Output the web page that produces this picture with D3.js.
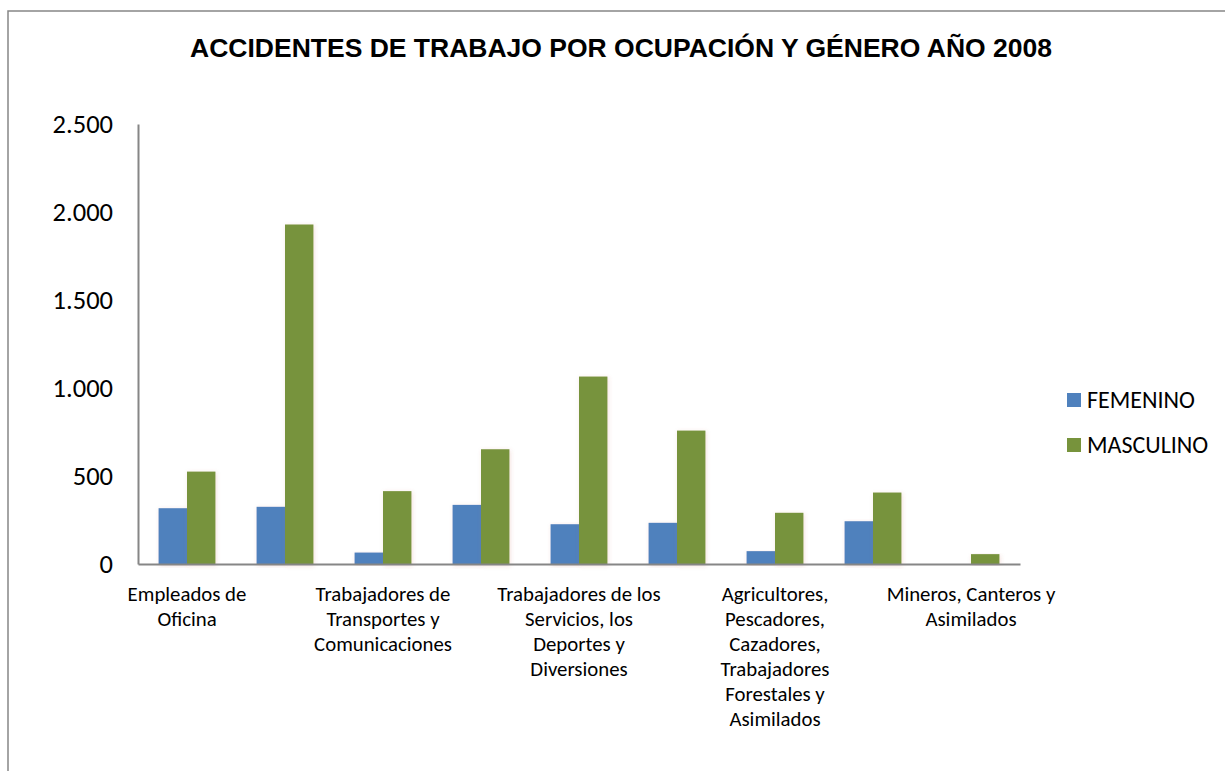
<!DOCTYPE html>
<html>
<head>
<meta charset="utf-8">
<script src="https://cdn.jsdelivr.net/npm/d3@7"></script>
<style>
body { margin: 0; background: #fff; }
svg { display: block; }
</style>
</head>
<body>
<div id="chart"></div>
<script>

let width = 1225;
let height = 771;

// datos
let categories = [
	"Empleados de Oficina",
	"Obreros y Operarios",
	"Trabajadores de Transportes y Comunicaciones",
	"Comerciantes y Vendedores",
	"Trabajadores de los Servicios, los Deportes y Diversiones",
	"Profesionales y Técnicos",
	"Agricultores, Pescadores, Cazadores, Trabajadores Forestales y Asimilados",
	"Trabajadores de la Construcción",
	"Mineros, Canteros y Asimilados"
];
let femenino = [317, 325, 65, 336, 226, 234, 73, 243, 0];
let masculino = [525, 1929, 414, 652, 1065, 758, 291, 406, 56];
let seriesNames = ["FEMENINO", "MASCULINO"];
let seriesColors = ["#4F81BD", "#77933C"];
let yTicks = [0, 500, 1000, 1500, 2000, 2500];

let labelFont = "Calibri, Carlito, Lato, sans-serif";

let svg = d3.select("#chart")
	.append("svg")
	.attr("width", width)
	.attr("height", height);

// marco del grafico (sale por la derecha y por abajo)
svg.append("rect")
	.attr("x", 8)
	.attr("y", 11)
	.attr("width", 1240)
	.attr("height", 800)
	.attr("fill", "#fff")
	.attr("stroke", "#868686")
	.attr("stroke-width", 1.5);

let defs = svg.append("defs");
let shadow = defs.append("filter").attr("id", "sombra")
	.attr("x", "-20%").attr("y", "-5%").attr("width", "140%").attr("height", "110%");
shadow.append("feDropShadow")
	.attr("dx", 1).attr("dy", 1).attr("stdDeviation", 2)
	.attr("flood-color", "#c0504d").attr("flood-opacity", 0.18);

svg.append("text")
	.attr("x", 621)
	.attr("y", 57)
	.attr("text-anchor", "middle")
	.style("font-family", "'Liberation Sans', Arial, sans-serif")
	.style("font-weight", "bold")
	.style("font-size", "26.5px")
	.attr("fill", "#000")
	.text("ACCIDENTES DE TRABAJO POR OCUPACIÓN Y GÉNERO AÑO 2008");

let x = d3.scaleBand()
	.domain(d3.range(categories.length))
	.range([138, 1020])
	.paddingInner(0.42)
	.paddingOuter(0.21);

let xSerie = d3.scaleBand()
	.domain([0, 1])
	.range([0, x.bandwidth()]);

let y = d3.scaleLinear()
	.domain([0, 2500])
	.range([564, 124]);

let es = d3.formatLocale({ decimal: ",", thousands: ".", grouping: [3], currency: ["$", ""] });

let yAxis = svg.append("g")
	.attr("transform", "translate(138,0)")
	.call(d3.axisLeft(y).tickValues(yTicks).tickSize(0).tickPadding(25).tickFormat(es.format(",")));

yAxis.select(".domain").attr("stroke", "#868686").attr("stroke-width", 2);
yAxis.selectAll("text")
	.style("font-family", labelFont)
	.style("font-size", "26.5px")
	.attr("fill", "#000");

let datos = categories.map((c, i) => ({ i: i, values: [femenino[i], masculino[i]] }));

let groups = svg.append("g")
	.selectAll("g")
	.data(datos)
	.enter().append("g")
	.attr("transform", d => "translate(" + x(d.i) + ",0)");

groups.selectAll("rect")
	.data(d => d.values.map((v, s) => ({ s: s, v: v })))
	.enter().append("rect")
	.filter(d => d.v > 0)
	.attr("x", d => xSerie(d.s))
	.attr("y", d => y(d.v))
	.attr("width", xSerie.bandwidth())
	.attr("height", d => y(0) - y(d.v) + 1)
	.attr("fill", d => seriesColors[d.s])
	.attr("filter", "url(#sombra)");

let xAxis = svg.append("g")
	.attr("transform", "translate(0,564)")
	.call(d3.axisBottom(x).tickSize(0).tickPadding(0).tickFormat(i => categories[i]));

xAxis.select(".domain").attr("stroke", "#868686").attr("stroke-width", 2);

// Excel solo muestra una etiqueta de cada dos
xAxis.selectAll(".tick").filter(i => i % 2 == 1).remove();

xAxis.selectAll(".tick text")
	.style("font-family", labelFont)
	.style("font-size", "20.8px")
	.attr("fill", "#000")
	.attr("y", 37)
	.attr("dy", 0)
	.call(wrap, 172);

function wrap(texts, maxWidth)
{
	texts.each(function() {
		let text = d3.select(this);
		let words = text.text().split(/\s+/);
		let line = [];
		let lineNumber = 0;
		let lineHeight = 25;
		let yPos = text.attr("y");
		text.text(null);
		let tspan = text.append("tspan").attr("x", 0).attr("y", yPos);
		for(let w = 0; w < words.length; w++)
		{
			line.push(words[w]);
			tspan.text(line.join(" "));
			if(tspan.node().getComputedTextLength() > maxWidth && line.length > 1)
			{
				line.pop();
				tspan.text(line.join(" "));
				line = [words[w]];
				lineNumber++;
				tspan = text.append("tspan")
					.attr("x", 0)
					.attr("y", +yPos + lineNumber * lineHeight)
					.text(words[w]);
			}
		}
	});
}

// leyenda
let legend = svg.append("g")
	.selectAll("g")
	.data(seriesNames)
	.enter().append("g")
	.attr("transform", (d, i) => "translate(1067," + (393 + i * 45) + ")");

legend.append("rect")
	.attr("width", 14)
	.attr("height", 14)
	.attr("fill", (d, i) => seriesColors[i]);

legend.append("text")
	.attr("x", 20)
	.attr("y", 7)
	.attr("dy", "0.35em")
	.style("font-family", labelFont)
	.style("font-size", "24px")
	.attr("fill", "#000")
	.text(d => d);

</script>
</body>
</html>
